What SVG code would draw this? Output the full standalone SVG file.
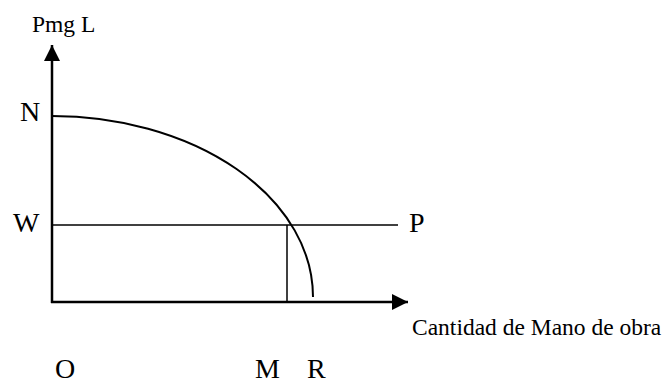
<svg xmlns="http://www.w3.org/2000/svg" width="666" height="385" viewBox="0 0 666 385">
<style>
.lbl{font-family:"Liberation Serif","Times New Roman",serif;fill:#000}
.big{font-size:28px}
.sm{font-size:23.5px}
.axis{stroke:#000;stroke-width:2.5;fill:none}
.ln{stroke:#000;stroke-width:1.5;fill:none}
.crv{stroke:#000;stroke-width:2;fill:none}
</style>
<defs>
<marker id="ah" markerUnits="userSpaceOnUse" markerWidth="16" markerHeight="16" refX="16" refY="8" orient="auto">
<path d="M0,0 L16,8 L0,16 Z" fill="#000"/>
</marker>
</defs>
<g id="connectors">
<line class="axis" x1="52" y1="303" x2="52" y2="45" marker-end="url(#ah)"/>
<line class="axis" x1="51" y1="302" x2="408" y2="302" marker-end="url(#ah)"/>
<line class="ln" x1="52" y1="225" x2="398" y2="225"/>
<line class="ln" x1="287" y1="225" x2="287" y2="302"/>
<path class="crv" d="M52,116 A261,181 0 0 1 313,297"/>
</g>
<g id="labels">
<text class="lbl sm" x="32" y="32">Pmg L</text>
<text class="lbl big" x="20" y="121">N</text>
<text class="lbl big" x="13" y="232">W</text>
<text class="lbl big" x="409" y="232">P</text>
<text class="lbl sm" x="412" y="335">Cantidad de Mano de obra</text>
<text class="lbl big" x="55" y="378">O</text>
<text class="lbl big" x="255" y="378">M</text>
<text class="lbl big" x="307" y="378">R</text>
</g>
</svg>
